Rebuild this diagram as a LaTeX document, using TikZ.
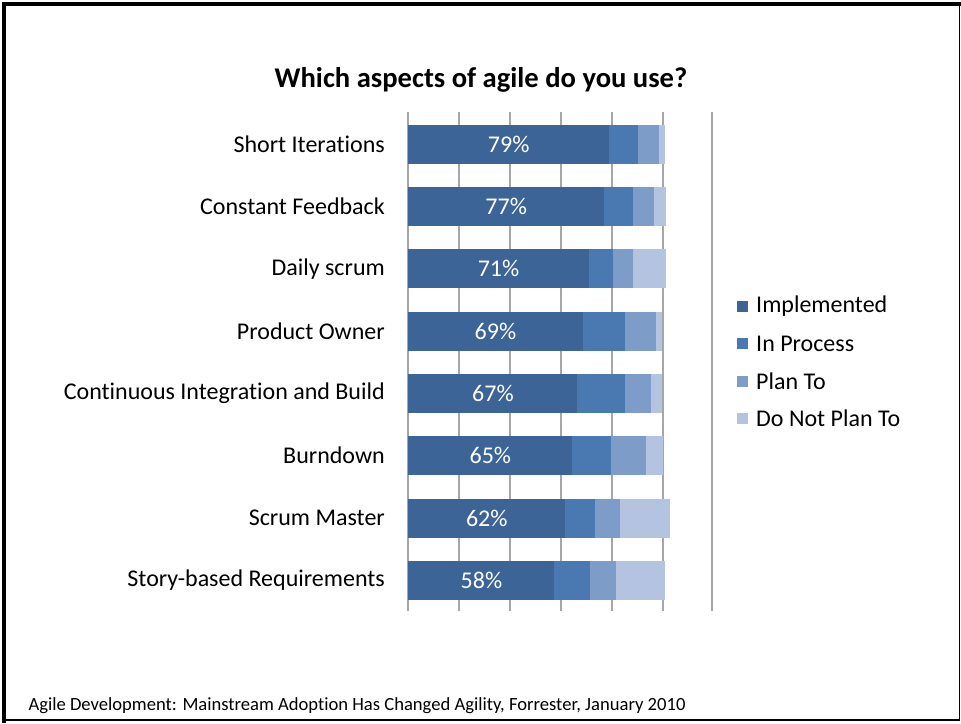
\documentclass[tikz,border=0pt]{standalone}
\usepackage{fontspec}
\setmainfont{Carlito}[Ligatures=NoCommon]
\usetikzlibrary{positioning}
\definecolor{implblue}{HTML}{3C6496}
\definecolor{procblue}{HTML}{4A78B0}
\definecolor{planblue}{HTML}{7E9CC8}
\definecolor{noplanblue}{HTML}{B4C4E0}
\definecolor{gridgray}{HTML}{A6A6A6}

\begin{document}
\begin{tikzpicture}[x=1pt,y=-1pt,
  seg/.style={draw=white,line width=0.8pt},
  catlabel/.style={anchor=east,font=\fontsize{24}{28}\selectfont,inner sep=0pt},
  pctlabel/.style={text=white,font=\fontsize{24}{28}\selectfont,inner sep=0pt},
  legtext/.style={anchor=west,font=\fontsize{24}{28}\selectfont,inner sep=0pt},
  legbox/.style={minimum size=11pt,inner sep=0pt}]
\useasboundingbox (0,0) rectangle (961,723);
% frame
\draw [line width=4pt] (3.5,723) -- (3.5,3.5) -- (961,3.5);
\draw [line width=1.5pt] (959.5,3.5) -- (959.5,720) -- (3.5,720);
\node (title) at (481,80) {\fontsize{28.6}{32}\selectfont\bfseries Which aspects of agile do you use?};
\node [anchor=west] (source) at (25,706) {\fontsize{18.6}{21}\selectfont Agile Development: Mainstream Adoption Has Changed Agility, Forrester, January 2010};
% separator
\draw [gridgray, line width=1.5pt] (712,112) -- (712,611);
\begin{scope}[shift={(408,0)}, xscale=2.55]
\draw [gridgray, line width=1.2pt] (0,112)--(0,611) (20,112)--(20,611) (40,112)--(40,611)
  (60,112)--(60,611) (80,112)--(80,611) (100,112)--(100,611);
% Short Iterations
\fill [seg, implblue] (0,125) rectangle (79,163);
\fill [seg, procblue] (79,125) rectangle (90.5,163);
\fill [seg, planblue] (90.5,125) rectangle (98.5,163);
\fill [seg, noplanblue] (98.5,125) rectangle (100.5,163);
\node [pctlabel] (pctshort) at (39.5,144) {79\%};
% Constant Feedback
\fill [seg, implblue] (0,187.3) rectangle (77,225.3);
\fill [seg, procblue] (77,187.3) rectangle (88.5,225.3);
\fill [seg, planblue] (88.5,187.3) rectangle (96.5,225.3);
\fill [seg, noplanblue] (96.5,187.3) rectangle (100.8,225.3);
\node [pctlabel] (pctfeed) at (38.5,206.3) {77\%};
% Daily scrum
\fill [seg, implblue] (0,249.6) rectangle (71,287.6);
\fill [seg, procblue] (71,249.6) rectangle (80.5,287.6);
\fill [seg, planblue] (80.5,249.6) rectangle (88.3,287.6);
\fill [seg, noplanblue] (88.3,249.6) rectangle (100.8,287.6);
\node [pctlabel] (pctdaily) at (35.5,268.6) {71\%};
% Product Owner
\fill [seg, implblue] (0,312) rectangle (68.6,350);
\fill [seg, procblue] (68.6,312) rectangle (85.4,350);
\fill [seg, planblue] (85.4,312) rectangle (97.5,350);
\fill [seg, noplanblue] (97.5,312) rectangle (99.5,350);
\node [pctlabel] (pctowner) at (34.3,331) {69\%};
% Continuous Integration and Build
\fill [seg, implblue] (0,374.3) rectangle (66.5,412.3);
\fill [seg, procblue] (66.5,374.3) rectangle (85.4,412.3);
\fill [seg, planblue] (85.4,374.3) rectangle (95.6,412.3);
\fill [seg, noplanblue] (95.6,374.3) rectangle (99.5,412.3);
\node [pctlabel] (pctci) at (33.3,393.3) {67\%};
% Burndown
\fill [seg, implblue] (0,436.6) rectangle (64.6,474.6);
\fill [seg, procblue] (64.6,436.6) rectangle (79.6,474.6);
\fill [seg, planblue] (79.6,436.6) rectangle (93.6,474.6);
\fill [seg, noplanblue] (93.6,436.6) rectangle (99.7,474.6);
\node [pctlabel] (pctburn) at (32.3,455.6) {65\%};
% Scrum Master
\fill [seg, implblue] (0,499) rectangle (61.8,537);
\fill [seg, procblue] (61.8,499) rectangle (73.6,537);
\fill [seg, planblue] (73.6,499) rectangle (83.4,537);
\fill [seg, noplanblue] (83.4,499) rectangle (102.5,537);
\node [pctlabel] (pctmaster) at (30.9,518) {62\%};
% Story-based Requirements
\fill [seg, implblue] (0,561.3) rectangle (57.6,599.3);
\fill [seg, procblue] (57.6,561.3) rectangle (71.4,599.3);
\fill [seg, planblue] (71.4,561.3) rectangle (81.6,599.3);
\fill [seg, noplanblue] (81.6,561.3) rectangle (100.5,599.3);
\node [pctlabel] (pctstory) at (28.8,580.3) {58\%};
\end{scope}
% category labels
\node [catlabel] (lblshort) at (385,144) {Short Iterations};
\node [catlabel] (lblfeed) at (385,206.3) {Constant Feedback};
\node [catlabel] (lbldaily) at (385,268.6) {Daily scrum};
\node [catlabel] (lblowner) at (385,331) {Product Owner};
\node [catlabel] (lblci) at (385,393.3) {Continuous Integration and Build};
\node [catlabel] (lblburn) at (385,455.6) {Burndown};
\node [catlabel] (lblmaster) at (385,518) {Scrum Master};
\node [catlabel] (lblstory) at (385,580.3) {Story-based Requirements};
% legend
\node [legbox, fill=implblue] (keyimpl) at (742.5,306) {};
\node [legbox, fill=procblue] (keyproc) at (742.5,343.5) {};
\node [legbox, fill=planblue] (keyplan) at (742.5,381) {};
\node [legbox, fill=noplanblue] (keynoplan) at (742.5,418) {};
\node [legtext] (txtimpl) at (756,306) {Implemented};
\node [legtext] (txtproc) at (756,343.5) {In Process};
\node [legtext] (txtplan) at (756,381) {Plan To};
\node [legtext] (txtnoplan) at (756,418) {Do Not Plan To};
\end{tikzpicture}
\end{document}
